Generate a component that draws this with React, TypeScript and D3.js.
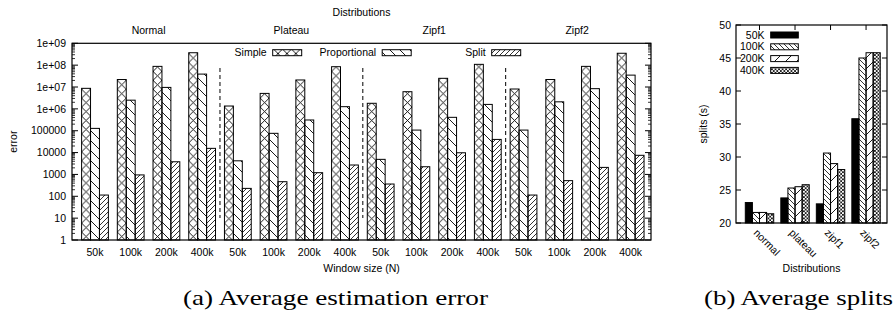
import React from 'react';
import * as d3 from 'd3';

// ---- data (left: average estimation error, log scale) ----
const windows = ['50k', '100k', '200k', '400k'];
const dists = ['Normal', 'Plateau', 'Zipf1', 'Zipf2'];
const methods = ['Simple', 'Proportional', 'Split'];

const simpleErr = [8.7e6, 2.2e7, 8.8e7, 3.7e8, 1.35e6, 5.1e6, 2.1e7, 8.5e7, 1.8e6, 6.1e6, 2.5e7, 1.09e8, 8.1e6, 2.2e7, 8.8e7, 3.5e8];
const propErr = [1.28e5, 2.5e6, 9.6e6, 3.9e7, 4200, 7.6e4, 3.1e5, 1.26e6, 4900, 1.07e5, 4.1e5, 1.6e6, 1.07e5, 2.1e6, 8.4e6, 3.5e7];
const splitErr = [114, 950, 3800, 15600, 230, 465, 1200, 2700, 364, 2250, 9800, 40000, 114, 520, 2100, 7500];

const errTicks = [1, 10, 100, 1000, 1e4, 1e5, 1e6, 1e7, 1e8, 1e9];
const errTickLabels = ['1', '10', '100', '1000', '10000', '100000', '1e+06', '1e+07', '1e+08', '1e+09'];

// ---- data (right: average splits) ----
const splitDists = ['normal', 'plateau', 'zipf1', 'zipf2'];
const splitSizes = ['50K', '100K', '200K', '400K'];
const splits50K = [23.1, 23.8, 22.9, 35.8];
const splits100K = [21.6, 25.3, 30.6, 45.0];
const splits200K = [21.6, 25.5, 29.0, 45.8];
const splits400K = [21.4, 25.8, 28.1, 45.8];
const splitTicks = [20, 25, 30, 35, 40, 45, 50];

const FONT = '"Liberation Sans", Arial, sans-serif';
const SERIF = '"Liberation Serif", "Times New Roman", serif';

const App = () => {
  /* Left chart scales -------------------------------*/
  const xA = d3.scaleLinear().domain([-0.644, 15.57]).range([72, 651]);
  const yA = d3.scaleLog().domain([1, 1e9]).range([240, 43.3]);
  const bwA = (xA(1) - xA(0)) / 4;
  const errSeries = [simpleErr, propErr, splitErr];
  const errFills = ['url(#pXA)', 'url(#pBackA)', 'url(#pFwdA)'];
  const groups = d3.range(16);
  const minorA: number[] = [];
  for (let d = 0; d < 9; d++) for (let k = 2; k < 10; k++) minorA.push(k * Math.pow(10, d));

  /* Right chart scales ------------------------------*/
  const xB = d3.scaleLinear().domain([-0.662, 3.59]).range([736, 887]);
  const yB = d3.scaleLinear().domain([20, 50]).range([223, 25]);
  const bwB = (xB(1) - xB(0)) / 5;
  const splitSeries = [splits50K, splits100K, splits200K, splits400K];
  const splitFills = ['#000', 'url(#pBackB)', 'url(#pFwdB)', 'url(#pXB)'];

  const [l, r] = xA.range();
  const [b, t] = yA.range();
  const [lB, rB] = xB.range();
  const [bB, tB] = yB.range();

  return (
    <svg width={896} height={312} style={{ position: 'absolute', left: 0, top: 0, background: '#fff' }}
      fontFamily={FONT} fontSize={10.5}>
      <defs>
        <pattern id="pXA" patternUnits="userSpaceOnUse" x={xA(0) - 1.5 * bwA} y={0} width={bwA} height={bwA}>
          <path d={`M0,0L${bwA},${bwA}M${bwA},0L0,${bwA}`} stroke="#000" strokeWidth={0.9} />
        </pattern>
        <pattern id="pBackA" patternUnits="userSpaceOnUse" width={10} height={10}>
          <path d="M-1,-1L11,11M-6,4L1,11M9,-1L11,1" stroke="#000" strokeWidth={0.9} />
        </pattern>
        <pattern id="pFwdA" patternUnits="userSpaceOnUse" width={5} height={5}>
          <path d="M-1,6L6,-1M-1,1L1,-1M4,6L6,4" stroke="#000" strokeWidth={0.8} />
        </pattern>
        <pattern id="pBackB" patternUnits="userSpaceOnUse" width={5} height={5}>
          <path d="M-1,-1L6,6M-1,4L1,6M4,-1L6,1" stroke="#000" strokeWidth={0.8} />
        </pattern>
        <pattern id="pFwdB" patternUnits="userSpaceOnUse" width={11} height={11}>
          <path d="M-1,12L12,-1" stroke="#000" strokeWidth={0.9} />
        </pattern>
        <pattern id="pXB" patternUnits="userSpaceOnUse" x={xB(0) + bwB} y={0} width={bwB / 2} height={bwB / 2}>
          <path d={`M0,0L${bwB / 2},${bwB / 2}M${bwB / 2},0L0,${bwB / 2}`} stroke="#000" strokeWidth={0.8} />
        </pattern>
      </defs>

      {/* ===== Left chart ===== */}
      <text x={(l + r) / 2} y={16} textAnchor="middle">Distributions</text>
      {dists.map((d, i) => (
        <text key={d} x={xA(i * 4 + 1.5)} y={34} textAnchor="middle">{d}</text>
      ))}

      {groups.map(g => errSeries.map((s, j) => (
        <rect key={`${g}-${j}`} x={xA(g) - 1.5 * bwA + j * bwA} y={yA(s[g])}
          width={bwA} height={b - yA(s[g])} fill={errFills[j]} stroke="#000" strokeWidth={1} />
      )))}

      {[1, 2, 3].map(k => (
        <line key={k} x1={xA(k * 4 - 0.5)} x2={xA(k * 4 - 0.5)} y1={68} y2={218}
          stroke="#000" strokeWidth={1} strokeDasharray="4,3" />
      ))}

      {/* y ticks */}
      {errTicks.map((v, i) => (
        <g key={v}>
          <line x1={l} x2={l + 6} y1={yA(v)} y2={yA(v)} stroke="#000" />
          <line x1={r} x2={r - 6} y1={yA(v)} y2={yA(v)} stroke="#000" />
          <text x={l - 6} y={yA(v)} dy="0.35em" textAnchor="end">{errTickLabels[i]}</text>
        </g>
      ))}
      {minorA.map(v => (
        <g key={v}>
          <line x1={l} x2={l + 3} y1={yA(v)} y2={yA(v)} stroke="#000" strokeWidth={0.8} />
          <line x1={r} x2={r - 3} y1={yA(v)} y2={yA(v)} stroke="#000" strokeWidth={0.8} />
        </g>
      ))}
      {groups.map(g => (
        <text key={g} x={xA(g)} y={252} dy="0.35em" textAnchor="middle">{windows[g % 4]}</text>
      ))}
      <rect x={l} y={t} width={r - l} height={b - t} fill="none" stroke="#000" strokeWidth={1.2} />
      <text x={(l + r) / 2} y={268.5} dy="0.35em" textAnchor="middle">Window size (N)</text>
      <text transform={`translate(13.5, ${(t + b) / 2}) rotate(-90)`} dy="0.35em" textAnchor="middle">error</text>

      {/* legend */}
      {methods.map((m, i) => {
        const sx = 272.7 + i * 109.5;
        return (
          <g key={m}>
            <text x={sx - 6} y={52.7} dy="0.35em" textAnchor="end">{m}</text>
            <rect x={sx} y={49.7} width={29} height={6} fill={errFills[i]} stroke="#000" strokeWidth={1} />
          </g>
        );
      })}

      <text x={335.5} y={305} fontFamily={SERIF} fontSize={22} textAnchor="middle"
        textLength={305} lengthAdjust="spacingAndGlyphs">(a) Average estimation error</text>

      {/* ===== Right chart ===== */}
      {splitDists.map((d, i) => splitSeries.map((s, j) => (
        <rect key={`${d}-${j}`} x={xB(i) - 2 * bwB + j * bwB} y={yB(s[i])}
          width={bwB} height={bB - yB(s[i])} fill={splitFills[j]} stroke="#000" strokeWidth={1} />
      )))}
      {splitTicks.map(v => (
        <g key={v}>
          <line x1={lB} x2={lB + 5} y1={yB(v)} y2={yB(v)} stroke="#000" />
          <line x1={rB} x2={rB - 5} y1={yB(v)} y2={yB(v)} stroke="#000" />
          <text x={lB - 5} y={yB(v)} dy="0.35em" textAnchor="end">{v}</text>
        </g>
      ))}
      {splitDists.map((d, i) => (
        <g key={d}>
          <line x1={xB(i)} x2={xB(i)} y1={tB} y2={tB + 5} stroke="#000" />
          <line x1={xB(i)} x2={xB(i)} y1={bB} y2={bB - 5} stroke="#000" />
          <text transform={`translate(${xB(i) - 4}, ${bB + 8}) rotate(45)`} dy="0.35em">{d}</text>
        </g>
      ))}
      <rect x={lB} y={tB} width={rB - lB} height={bB - tB} fill="none" stroke="#000" strokeWidth={1.2} />
      <text x={(lB + rB) / 2} y={268.5} dy="0.35em" textAnchor="middle">Distributions</text>
      <text transform={`translate(703.5, ${(tB + bB) / 2}) rotate(-90)`} dy="0.35em" textAnchor="middle">splits (s)</text>

      {splitSizes.map((s, i) => {
        const cy = 35 + i * 11.8;
        return (
          <g key={s}>
            <text x={764.5} y={cy} dy="0.35em" textAnchor="end">{s}</text>
            <rect x={770.7} y={cy - 3} width={27.6} height={6} fill={splitFills[i]} stroke="#000" strokeWidth={1} />
          </g>
        );
      })}

      <text x={798.5} y={305} fontFamily={SERIF} fontSize={22} textAnchor="middle"
        textLength={189} lengthAdjust="spacingAndGlyphs">(b) Average splits</text>
    </svg>
  );
};

export default App;
